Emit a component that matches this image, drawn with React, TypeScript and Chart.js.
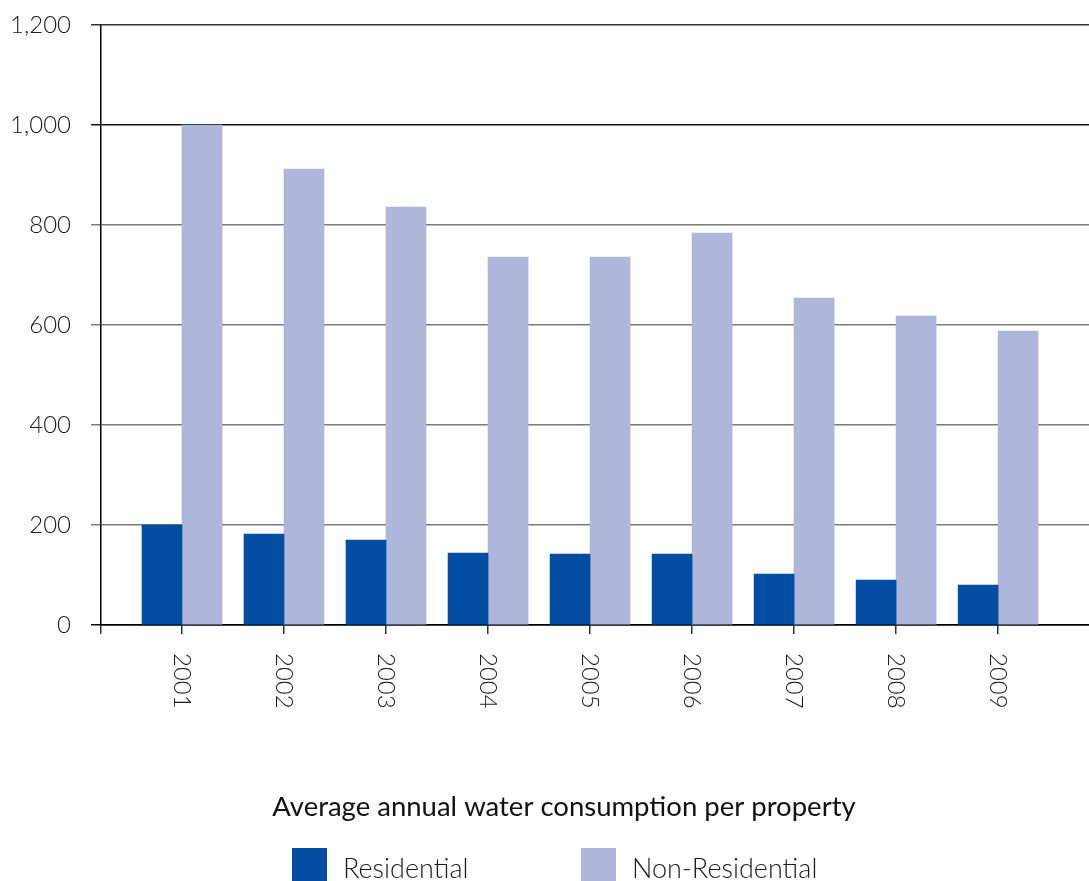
import React, { useEffect, useRef } from "react";
import Chart from "chart.js/auto";

const years = ["2001", "2002", "2003", "2004", "2005", "2006", "2007", "2008", "2009"];
const residential = [200, 182, 170, 144, 142, 142, 102, 90, 80];
const nonResidential = [1000, 912, 836, 736, 736, 784, 654, 618, 588];
const yTicks = [0, 200, 400, 600, 800, 1000, 1200];

const seriesNames = ["Residential", "Non-Residential"];
const seriesColors = ["#034EA2", "#AEB6DA"];
const chartTitle = "Average annual water consumption per property";

const FONT = 'Lato, "Open Sans", "DejaVu Sans", sans-serif';
const X_MIN = -0.794;
const X_MAX = 9.273;

const rotatedLabels = {
  id: "rotatedLabels",
  afterDraw(chart: any) {
    const xs = chart.scales.x;
    const ctx = chart.ctx;
    ctx.save();
    ctx.font = `300 24px ${FONT}`;
    ctx.fillStyle = "#1a1a1a";
    ctx.textAlign = "left";
    ctx.textBaseline = "middle";
    years.forEach((label, i) => {
      const x = xs.getPixelForValue(i);
      ctx.save();
      ctx.translate(x, xs.top + 28);
      ctx.rotate(Math.PI / 2);
      ctx.fillText(label, 0, 0);
      ctx.restore();
    });
    ctx.restore();
  },
};

export default function App() {
  const ref = useRef<HTMLCanvasElement | null>(null);

  useEffect(() => {
    if (!ref.current) return;
    const chart = new Chart(ref.current, {
      type: "bar",
      data: {
        datasets: [
          {
            label: seriesNames[0],
            data: residential.map((v, i) => ({ x: i, y: v })),
            backgroundColor: seriesColors[0],
            borderWidth: 0,
          },
          {
            label: seriesNames[1],
            data: nonResidential.map((v, i) => ({ x: i, y: v })),
            backgroundColor: seriesColors[1],
            borderWidth: 0,
          },
        ],
      },
      options: {
        animation: false,
        responsive: true,
        maintainAspectRatio: false,
        devicePixelRatio: 1,
        barThickness: 40,
        layout: { padding: { top: 25, left: 0, right: 0, bottom: 57 } },
        plugins: {
          legend: { display: false },
          tooltip: { enabled: false },
          title: {
            display: true,
            text: chartTitle,
            position: "bottom",
            color: "#111",
            font: { family: FONT, size: 27.5, weight: "400" },
            padding: { top: 46, bottom: 0 },
          },
        },
        scales: {
          x: {
            type: "linear",
            min: X_MIN,
            max: X_MAX,
            offset: false,
            afterBuildTicks(scale: any) {
              scale.ticks = [{ value: X_MIN }, ...years.map((_, i) => ({ value: i }))];
            },
            afterFit(scale: any) {
              scale.height = 120;
              scale.paddingLeft = 0;
              scale.paddingRight = 0;
            },
            ticks: { display: false },
            grid: {
              offset: false,
              drawOnChartArea: false,
              drawTicks: true,
              tickLength: 9,
              color: "#333",
              lineWidth: 1.5,
            },
            border: { display: true, color: "#000", width: 1.5 },
          },
          y: {
            min: 0,
            max: 1200,
            afterBuildTicks(scale: any) {
              scale.ticks = yTicks.map((v) => ({ value: v }));
            },
            afterFit(scale: any) {
              scale.width = 101;
              scale.paddingTop = 0;
              scale.paddingBottom = 0;
            },
            ticks: {
              padding: 20,
              color: "#1a1a1a",
              font: { family: FONT, size: 24, weight: "300" },
              callback: (v: any) => Number(v).toLocaleString("en-US"),
            },
            grid: {
              tickLength: 10,
              lineWidth: 1.5,
              color: (c: any) =>
                c.tick && c.tick.value === 1000
                  ? "#111"
                  : c.tick && c.tick.value === 1200
                  ? "#333"
                  : c.tick && c.tick.value === 0
                  ? "#000"
                  : "#7a7a7a",
            },
            border: { display: true, color: "#000", width: 1.5 },
          },
        },
      } as any,
      plugins: [rotatedLabels],
    });
    return () => chart.destroy();
  }, []);

  const legendItem = (i: number, left: number) => (
    <div
      key={i}
      style={{
        position: "absolute",
        left,
        top: 848,
        display: "flex",
        alignItems: "flex-start",
        fontFamily: FONT,
        fontWeight: 300,
        fontSize: 27,
        color: "#1a1a1a",
        whiteSpace: "nowrap",
      }}
    >
      <div style={{ width: 35, height: 35, background: seriesColors[i], flex: "none" }} />
      <span style={{ marginLeft: 16, lineHeight: "40px", marginTop: 0 }}>{seriesNames[i]}</span>
    </div>
  );

  return (
    <div
      style={{
        position: "fixed",
        left: 0,
        top: 0,
        width: 1089,
        height: 881,
        overflow: "hidden",
        background: "#fff",
      }}
    >
      <div style={{ position: "absolute", left: 0, top: 0, width: 1128, height: 881 }}>
        <canvas ref={ref} />
      </div>
      {legendItem(0, 292)}
      {legendItem(1, 581)}
    </div>
  );
}
